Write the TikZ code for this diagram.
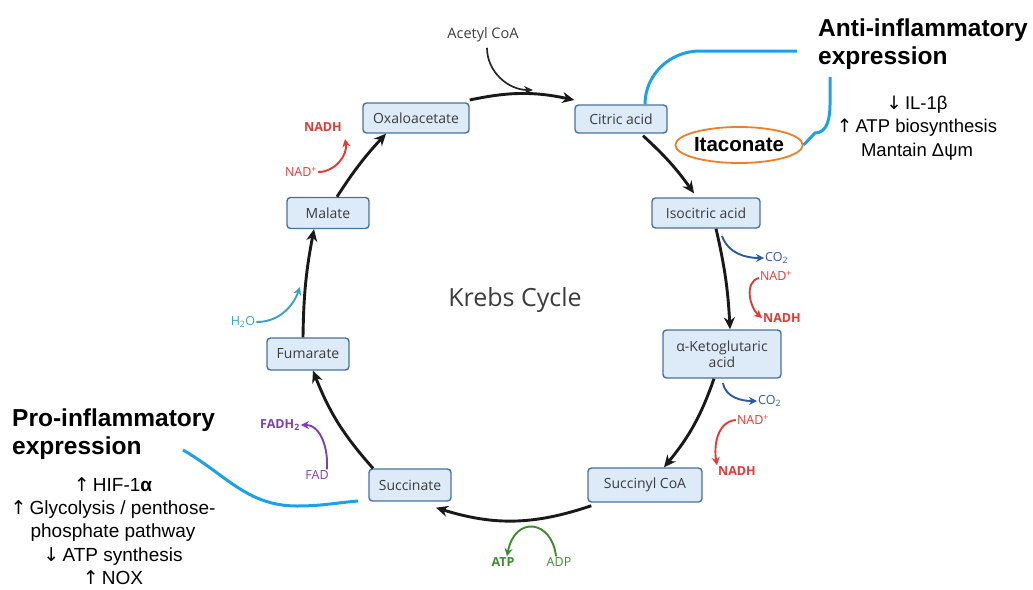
\documentclass[tikz,border=0pt]{standalone}
\usepackage{fontspec}
\setmainfont{Liberation Sans}
\newfontfamily\os{Open Sans}
\newfontfamily\dv{DejaVu Sans}
\usetikzlibrary{arrows.meta,shapes.geometric}
\definecolor{boxfill}{RGB}{221,234,248}
\definecolor{boxdraw}{RGB}{74,113,153}
\definecolor{nadred}{RGB}{229,57,53}
\definecolor{co2blue}{RGB}{44,90,160}
\definecolor{h2oblue}{RGB}{59,160,200}
\definecolor{fadpur}{RGB}{126,63,181}
\definecolor{atpgreen}{RGB}{60,140,42}
\definecolor{cyanline}{RGB}{28,160,230}
\definecolor{itorange}{RGB}{240,125,40}
\definecolor{txtgray}{RGB}{60,60,60}
\tikzset{
  metab/.style={draw=boxdraw, fill=boxfill, line width=1.4pt, rounded corners=3.5pt,
    font=\os\fontsize{14}{16}\selectfont, text=txtgray, minimum height=30pt, inner sep=1pt, align=center},
  cyc/.style={-{Stealth[length=12pt,width=11pt]}, line width=2.9pt, black!90},
  side/.style={-{Stealth[length=8pt,width=8pt]}, line width=1.9pt},
  small/.style={font=\os\fontsize{12.5}{14}\selectfont, inner sep=1pt},
  smallb/.style={font=\os\bfseries\fontsize{12.5}{14}\selectfont, inner sep=1pt},
  link/.style={cyanline, line width=3pt},
  head/.style={font=\bfseries\fontsize{24.5}{28}\selectfont, align=left, inner sep=0pt},
  eff/.style={font=\fontsize{18.5}{23.4}\selectfont, align=center, inner sep=0pt}
}
\begin{document}
\begin{tikzpicture}[x=1pt,y=-1pt]
\useasboundingbox (0,0) rectangle (1033,589);
% metabolites
\node[metab, minimum width=106pt] (oxa) at (416,118) {Oxaloacetate};
\node[metab, minimum width=92pt, minimum height=28pt] (cit) at (621,119) {Citric acid};
\node[metab, minimum width=108pt] (iso) at (706,213) {Isocitric acid};
\node[metab, minimum width=118pt, minimum height=48pt] (akg) at (722,354) {α-Ketoglutaric\\acid};
\node[metab, minimum width=114pt, minimum height=34pt] (suc) at (645,485) {Succinyl CoA};
\node[metab, minimum width=82pt, minimum height=32pt] (succ) at (410,485) {Succinate};
\node[metab, minimum width=82pt, minimum height=32pt] (fum) at (308,354) {Fumarate};
\node[metab, minimum width=82pt, minimum height=31pt] (mal) at (328,213) {Malate};
\node[font=\os\fontsize{25}{28}\selectfont, text=txtgray] (title) at (515,300) {Krebs Cycle};
% cycle arrows
\draw[cyc] ([yshift=18pt]oxa.east) to[bend left=12] ([yshift=19pt]cit.west);
\draw[cyc] ([xshift=22pt,yshift=-2pt]cit.south) to[bend left=6] ([xshift=-12pt,yshift=4pt]iso.north);
\draw[cyc] ([xshift=10pt]iso.south) to[bend left=5] ([xshift=8pt]akg.north);
\draw[cyc] ([xshift=-8pt]akg.south) to[bend left=10] ([xshift=19pt]suc.north);
\draw[cyc] ([xshift=4pt,yshift=-3pt]suc.south west) to[bend left=18] ([xshift=26pt,yshift=-6pt]succ.south);
\draw[cyc] ([xshift=-37pt]succ.north) to[bend left=10] ([xshift=5pt]fum.south);
\draw[cyc] ([xshift=-5pt]fum.north) to[bend left=5] ([xshift=-14pt]mal.south);
\draw[cyc] ([xshift=9pt]mal.north) to[bend left=5] ([xshift=-30pt]oxa.south);
% acetyl CoA
\node[font=\os\fontsize{14.5}{16}\selectfont, text=txtgray] (acetyl) at (483,35) {Acetyl CoA};
\coordinate (acend) at (533,90);
\draw[-{Stealth[length=9pt,width=8pt]}, line width=1.7pt, black!85] ([xshift=4pt,yshift=-2pt]acetyl.south) to[out=-90,in=180] (acend);
% isocitric side reactions
\node[small, text=co2blue, anchor=west] (co2a) at (764,258) {CO\textsubscript{2}};
\coordinate (c1) at (722,236);
\draw[side, co2blue] (c1) to[out=-70,in=180] (co2a.west);
\node[small, text=nadred] (nad1) at (776,276) {NAD\textsuperscript{+}};
\node[smallb, text=nadred] (nadh1) at (782,318) {NADH};
\draw[side, nadred] ([yshift=-2pt]nad1.west) to[out=195,in=140] (nadh1.west);
% alpha-KG side reactions
\node[small, text=co2blue, anchor=west] (co2b) at (757,401) {CO\textsubscript{2}};
\coordinate (c2) at (723,383);
\draw[side, co2blue] (c2) to[out=-80,in=180] (co2b.west);
\node[small, text=nadred] (nad2) at (753,420) {NAD\textsuperscript{+}};
\node[smallb, text=nadred] (nadh2) at (737,471) {NADH};
\draw[side, nadred] (nad2.west) to[out=185,in=100] (nadh2.north west);
% succinyl -> succinate
\node[smallb, text=atpgreen] (atp) at (503,562) {ATP};
\node[small, text=atpgreen] (adp) at (559,562) {ADP};
\draw[side, atpgreen] ([xshift=-3pt]adp.north) .. controls (552,520) and (515,515) .. ([xshift=4pt]atp.north);
% succinate -> fumarate
\node[small, text=fadpur] (fad) at (317,475) {FAD};
\node[smallb, text=fadpur] (fadh) at (280,425) {FADH\textsubscript{2}};
\draw[side, fadpur] ([xshift=-3pt]fad.north east) to[out=85,in=0] (fadh.east);
% fumarate -> malate
\node[small, text=h2oblue] (h2o) at (243,322) {H\textsubscript{2}O};
\coordinate (wend) at (300,287);
\draw[side, h2oblue] (h2o.east) to[out=0,in=-110] (wend);
% malate -> oxaloacetate
\node[small, text=nadred] (nad3) at (301,172) {NAD\textsuperscript{+}};
\node[smallb, text=nadred] (nadh3) at (323,127) {NADH};
\coordinate (nend) at (345,139);
\draw[side, nadred] (nad3.east) to[out=0,in=-80] (nend);
% itaconate / anti-inflammatory
\node[draw=itorange, line width=1.8pt, ellipse, minimum width=108pt, minimum height=36pt, inner sep=0pt,
  font=\bfseries\fontsize{20.5}{22}\selectfont] (itac) at (739,145) {Itaconate};
\node[head, anchor=north west] (anti) at (818,19) {Anti-inflammatory\\expression};
\node[eff] (anteff) at (917,128) {{\dv\char"2193}\,IL-1β\\{\dv\char"2191}\,ATP biosynthesis\\Mantain Δψm};
\coordinate (l1a) at (700,51);
\coordinate (l1b) at (797,51);
\draw[link] ([xshift=24pt]cit.north) to[out=90,in=180] (l1a) -- (l1b);
\coordinate (l2a) at (815,133);
\coordinate (l2b) at (830,77);
\draw[link] (itac.east) -- (l2a) to[out=0,in=-90] ([yshift=-28pt]l2b) -- (l2b);
% pro-inflammatory
\node[head, anchor=north west] (pro) at (12,409) {Pro-inflammatory\\expression};
\node[eff, font=\fontsize{19}{23.3}\selectfont] (proeff) at (113,531) {{\dv\char"2191}\,HIF-1{\bfseries α}\\{\dv\char"2191}\,Glycolysis / penthose-\\phosphate pathway\\{\dv\char"2193}\,ATP synthesis\\{\dv\char"2191}\,NOX};
\coordinate (p1) at (183,450);
\coordinate (p2) at (297,506);
\coordinate (p3) at (358,501);
\draw[link] (p1) to[out=-30,in=180] (p2) to[out=0,in=185] (p3);
\end{tikzpicture}
\end{document}
